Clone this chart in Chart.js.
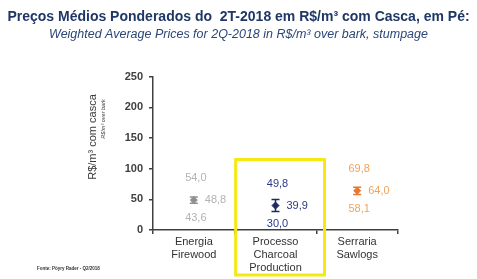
<!DOCTYPE html>
<html><head><meta charset="utf-8">
<script src="https://cdn.jsdelivr.net/npm/chart.js@4"></script>
<style>html,body{margin:0;padding:0;background:#fff}#wrap{width:477px;height:279px;position:relative}</style>
</head><body><div id="wrap"><canvas id="c" width="477" height="279"></canvas></div>
<script>
const categories = [["Energia","Firewood"],["Processo","Charcoal","Production"],["Serraria","Sawlogs"]];
const avgValues = [48.8, 39.9, 64.0];
const minValues = [43.6, 30.0, 58.1];
const maxValues = [54.0, 49.8, 69.8];
const yTicks = [0, 50, 100, 150, 200, 250];
const titleText = "Preços Médios Ponderados do  2T-2018 em R$/m³ com Casca, em Pé:";
const subtitleText = "Weighted Average Prices for 2Q-2018 in R$/m³ over bark, stumpage";
const yTitle1 = "R$/m³ com casca";
const yTitle2 = "R$/m³ over bark";
const footerText = "Fonte: Pöyry Rader - Q2/2018";

const markColors = ["#8f8f8f", "#1c2a5e", "#e8772e"];
const labelColors = ["#b3b3b3", "#2b3b86", "#f0a25e"];
const FONT = "'Liberation Sans', Arial, sans-serif";

const extras = {
  id: 'extras',
  afterDatasetsDraw(chart) {
    const ctx = chart.ctx, ys = chart.scales.y;
    const meta = chart.getDatasetMeta(0);
    ctx.save();
    for (let i = 0; i < avgValues.length; i++) {
      const px = meta.data[i].x;
      const lo = ys.getPixelForValue(minValues[i]);
      const hi = ys.getPixelForValue(maxValues[i]);
      ctx.strokeStyle = markColors[i];
      ctx.lineWidth = 1.5;
      ctx.beginPath();
      ctx.moveTo(px, lo); ctx.lineTo(px, hi);
      ctx.moveTo(px - 4, lo); ctx.lineTo(px + 4, lo);
      ctx.moveTo(px - 4, hi); ctx.lineTo(px + 4, hi);
      ctx.stroke();
    }
    ctx.font = "11px " + FONT;
    ctx.textBaseline = 'middle';
    for (let i = 0; i < avgValues.length; i++) {
      const p = meta.data[i];
      ctx.fillStyle = labelColors[i];
      ctx.textAlign = 'center';
      ctx.fillText(maxValues[i].toFixed(1).replace('.', ','), p.x + 2, p.y - 22);
      ctx.fillText(minValues[i].toFixed(1).replace('.', ','), p.x + 2, p.y + 18);
      ctx.textAlign = 'left';
      ctx.fillText(avgValues[i].toFixed(1).replace('.', ','), p.x + 11, p.y);
    }
    ctx.restore();
  },
  afterDraw(chart) {
    const ctx = chart.ctx, xs = chart.scales.x, ys = chart.scales.y;
    ctx.save();
    const l = xs.getPixelForValue(0.5) + 1;
    const r = xs.getPixelForValue(1.6);
    const t = ys.getPixelForValue(115);
    const b = chart.chartArea.bottom + 45;
    ctx.strokeStyle = "#f5ea10";
    ctx.lineWidth = 3;
    ctx.strokeRect(l, t, r - l, b - t);
    ctx.fillStyle = "#3a3a3a";
    ctx.textAlign = 'center';
    ctx.textBaseline = 'middle';
    ctx.translate(93, 137);
    ctx.rotate(-Math.PI / 2);
    ctx.font = "11px " + FONT;
    ctx.fillText(yTitle1, 0, 0);
    ctx.setTransform(1, 0, 0, 1, 0, 0);
    ctx.translate(103, 119);
    ctx.rotate(-Math.PI / 2);
    ctx.font = "italic 5.5px " + FONT;
    ctx.fillText(yTitle2, 0, 0);
    ctx.setTransform(1, 0, 0, 1, 0, 0);
    ctx.font = "bold 4.5px " + FONT;
    ctx.fillStyle = "#333";
    ctx.textAlign = 'left';
    ctx.fillText(footerText, 37, 269);
    ctx.restore();
  }
};

new Chart(document.getElementById('c'), {
  type: 'line',
  data: {
    labels: categories,
    datasets: [{
      data: avgValues,
      showLine: false,
      pointStyle: 'rectRot',
      pointRadius: 3.5,
      pointBackgroundColor: markColors,
      pointBorderColor: markColors,
      pointBorderWidth: 1
    }]
  },
  options: {
    responsive: false,
    animation: false,
    events: [],
    layout: { padding: 0 },
    plugins: {
      legend: { display: false },
      tooltip: { enabled: false },
      title: {
        display: true, text: titleText, color: "#1f3767",
        font: { family: FONT, size: 14, weight: 'bold' },
        padding: { top: 9, bottom: 1 }
      },
      subtitle: {
        display: true, text: subtitleText, color: "#2c4677",
        font: { family: FONT, size: 12.5, style: 'italic' },
        padding: { top: 0, bottom: 35 }
      }
    },
    scales: {
      x: {
        type: 'category',
        offset: true,
        afterFit(s) { s.height = 49; },
        border: { display: true, color: "#404040", width: 1.5 },
        grid: { display: true, offset: true, drawOnChartArea: false, tickLength: 4, color: "#404040", lineWidth: 1.5 },
        ticks: { color: "#333", font: { family: FONT, size: 11 }, padding: 1, maxRotation: 0, autoSkip: false }
      },
      y: {
        min: 0, max: 250,
        afterFit(s) { s.width = 153; },
        afterBuildTicks(s) { s.ticks = yTicks.map(v => ({ value: v })); },
        border: { display: true, color: "#404040", width: 1.5 },
        grid: { display: true, drawOnChartArea: false, tickLength: 4, color: "#404040", lineWidth: 1.5 },
        ticks: { color: "#404040", font: { family: FONT, size: 11, weight: 'bold' }, padding: 6 }
      },
      yRight: {
        position: 'right',
        min: 0, max: 250,
        afterFit(s) { s.width = 79; },
        border: { display: false },
        grid: { display: false },
        ticks: { display: false }
      }
    }
  },
  plugins: [extras]
});
</script></body></html>
